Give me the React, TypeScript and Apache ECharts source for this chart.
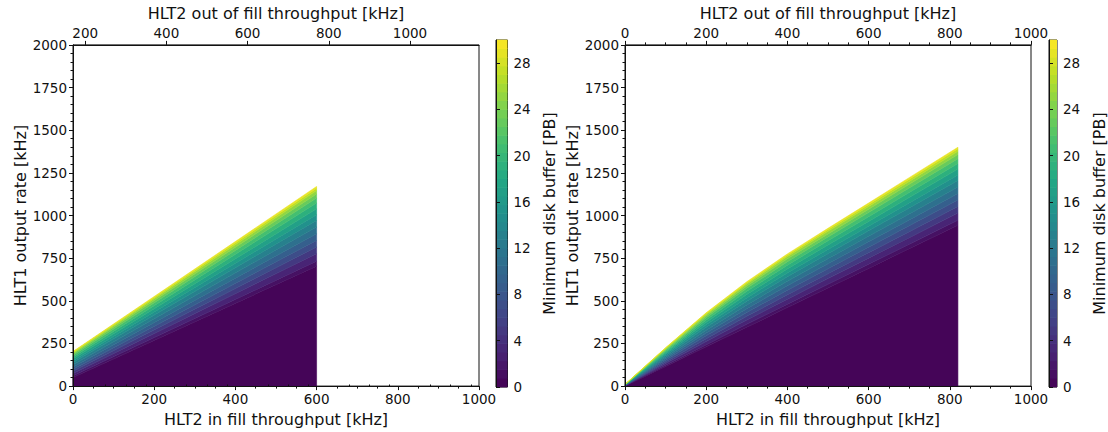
import React, { useEffect, useRef } from 'react';
import * as echarts from 'echarts';

// ---- data ----
// contour levels (PB) bounding the filled bands
const LEVELS = [0.75, 2, 4, 6, 8, 10, 12, 14, 16, 18, 20, 22, 24, 26, 28, 30];

// left panel: x columns (HLT2 in fill throughput, kHz) and the HLT1 rate of each contour level
const LEFT_X = [0, 600];
const LEFT_CONTOURS = [
  [50, 703], [60, 732], [74, 776], [87, 815], [99, 854], [112, 893], [125, 932], [138, 971],
  [149, 1005], [160, 1039], [171, 1073], [181, 1102], [189, 1126], [195, 1146], [200, 1160], [203, 1170],
];

// right panel
const RIGHT_X = [0, 100, 200, 300, 400, 500, 600, 700, 820];
const RIGHT_CONTOURS = [
  [0.4, 115, 230, 345, 460, 575, 690, 805, 943],
  [1, 122, 243, 362, 480, 597, 714, 831, 972],
  [1.9, 132, 261, 387, 509, 630, 750, 870, 1014],
  [2.7, 141, 278, 409, 536, 659, 782, 905, 1053],
  [3.5, 151, 295, 431, 562, 688, 814, 940, 1091],
  [4.3, 160, 311, 454, 588, 717, 846, 974, 1129],
  [5.1, 169, 328, 476, 614, 746, 878, 1009, 1167],
  [5.9, 178, 345, 498, 641, 776, 910, 1044, 1205],
  [6.6, 186, 359, 517, 663, 801, 937, 1074, 1238],
  [7.3, 194, 374, 537, 686, 827, 965, 1105, 1272],
  [8, 202, 388, 556, 709, 852, 993, 1135, 1305],
  [8.6, 209, 401, 573, 729, 874, 1017, 1161, 1333],
  [9.1, 215, 411, 587, 746, 892, 1037, 1183, 1357],
  [9.5, 219, 420, 598, 759, 907, 1053, 1200, 1376],
  [9.8, 223, 426, 606, 768, 918, 1065, 1213, 1391],
  [10, 225, 430, 612, 775, 925, 1073, 1222, 1400],
];

// colorbar band edges
const CBAR_LEVELS = [
  0, 0.75, 1.5, 2.25, 3, 3.75, 4.5, 5.25, 6, 6.75, 7.5, 8.25, 9, 9.75, 10.5, 11.25, 12, 12.75, 13.5, 14.25,
  15, 15.75, 16.5, 17.25, 18, 18.75, 19.5, 20.25, 21, 21.75, 22.5, 23.25, 24, 24.75, 25.5, 26.25, 27, 27.75,
  28.5, 29.25, 30,
];

const TOP_LEFT_TICKS = [200, 400, 600, 800, 1000];
const TOP_LEFT_MINOR = [250, 300, 350, 450, 500, 550, 650, 700, 750, 850, 900, 950, 1050, 1100, 1150];
const CBAR_TICKS = [0, 4, 8, 12, 16, 20, 24, 28];

const VIRIDIS = ['#440154', '#482475', '#414487', '#355f8d', '#2a788e', '#21918c', '#22a884', '#44bf70', '#7ad151', '#bddf26', '#fde725'];

const FONT = 'DejaVu Sans';
const INK = '#111';

function bandData() {
  return LEVELS.map((v, k) => [k, k === 0 ? v / 2 : (LEVELS[k - 1] + v) / 2]);
}

function bandRenderer(xs: number[], contours: number[][]) {
  return (params: any, api: any) => {
    const k = api.value(0);
    const upper = contours[k];
    const lower = k === 0 ? null : contours[k - 1];
    const pts: number[][] = [];
    for (let i = 0; i < xs.length; i++) pts.push(api.coord([xs[i], lower ? Math.min(lower[i], upper[i]) : 0]));
    for (let i = xs.length - 1; i >= 0; i--) pts.push(api.coord([xs[i], upper[i]]));
    const c = api.visual('color');
    return {
      type: 'polygon',
      shape: { points: pts },
      style: { fill: c, stroke: c, lineWidth: 0.6 },
    };
  };
}

function cbarRenderer(params: any, api: any) {
  const k = api.value(0);
  const p0 = api.coord([0, CBAR_LEVELS[k]]);
  const p1 = api.coord([1, CBAR_LEVELS[k + 1]]);
  return {
    type: 'rect',
    shape: { x: p0[0], y: p1[1] - 0.3, width: p1[0] - p0[0], height: p0[1] - p1[1] + 0.6 },
    style: { fill: api.visual('color') },
  };
}

const cbarData = CBAR_LEVELS.slice(0, -1).map((v, k) => [k, (v + CBAR_LEVELS[k + 1]) / 2]);

const plain = (v: number) => String(v);
const label = { fontSize: 13.5, color: INK, fontFamily: FONT, formatter: plain };
const nameStyle = { fontSize: 16, color: INK, fontFamily: FONT };
const line = { show: true, lineStyle: { color: INK, width: 1 } };
const tick = { show: true, length: 4, lineStyle: { color: INK, width: 1 } };
const minor = (n: number) => ({ show: true, splitNumber: n, length: 2.5, lineStyle: { color: INK, width: 1 } });

function mainAxes(gridIndex: number, topMin: number, topMax: number, leftStyle: boolean) {
  const bottom = {
    type: 'value', gridIndex, position: 'bottom', min: 0, max: 1000, interval: 200, z: 10,
    axisLine: line, axisTick: tick, minorTick: minor(4), splitLine: { show: false }, minorSplitLine: { show: false },
    axisLabel: { ...label, margin: 6 },
    name: 'HLT2 in fill throughput [kHz]', nameLocation: 'middle', nameGap: 24, nameTextStyle: nameStyle,
  };
  const top = leftStyle
    ? {
        type: 'value', gridIndex, position: 'top', min: topMin, max: topMax, z: 10,
        axisLine: line,
        axisTick: { ...tick, customValues: TOP_LEFT_TICKS },
        axisLabel: { ...label, margin: 5, customValues: TOP_LEFT_TICKS },
        splitLine: { show: false },
        name: 'HLT2 out of fill throughput [kHz]', nameLocation: 'middle', nameGap: 22, nameTextStyle: nameStyle,
      }
    : {
        type: 'value', gridIndex, position: 'top', min: topMin, max: topMax, interval: 200, z: 10,
        axisLine: line, axisTick: tick, minorTick: minor(4), splitLine: { show: false }, minorSplitLine: { show: false },
        axisLabel: { ...label, margin: 5 },
        name: 'HLT2 out of fill throughput [kHz]', nameLocation: 'middle', nameGap: 22, nameTextStyle: nameStyle,
      };
  return [bottom, top];
}

function yMain(gridIndex: number) {
  return {
    type: 'value', gridIndex, position: 'left', min: 0, max: 2000, interval: 250, z: 10,
    axisLine: line, axisTick: tick, minorTick: minor(5), splitLine: { show: false }, minorSplitLine: { show: false },
    axisLabel: { ...label, margin: 6 },
    name: 'HLT1 output rate [kHz]', nameLocation: 'middle', nameRotate: 90, nameGap: 45, nameTextStyle: nameStyle,
  };
}

function yCbar(gridIndex: number) {
  return {
    type: 'value', gridIndex, position: 'right', min: 0, max: 30, z: 10,
    axisLine: line,
    axisTick: { ...tick, customValues: CBAR_TICKS },
    axisLabel: { ...label, margin: 6, customValues: CBAR_TICKS },
    splitLine: { show: false },
    name: 'Minimum disk buffer [PB]', nameLocation: 'middle', nameRotate: 90, nameGap: 34, nameTextStyle: nameStyle,
  };
}

const hiddenX = (gridIndex: number) => ({ type: 'value', gridIndex, min: 0, max: 1, show: false });

export default function App() {
  const ref = useRef<HTMLDivElement>(null);
  useEffect(() => {
    if (!ref.current) return;
    const chart = echarts.init(ref.current, undefined, { renderer: 'svg' });
    const [lb, lt] = mainAxes(0, 170, 1170, true);
    const [rb, rt] = mainAxes(3, 0, 1000, false);
    const option: any = {
      animation: false,
      textStyle: { fontFamily: FONT },
      grid: [
        { left: 73, top: 40, width: 406, height: 347, show: true, borderColor: INK, borderWidth: 1 },
        { left: 73, top: 40, width: 406, height: 347 },
        { left: 496, top: 40, width: 11.5, height: 347, show: true, borderColor: INK, borderWidth: 1 },
        { left: 625, top: 40, width: 406, height: 347, show: true, borderColor: INK, borderWidth: 1 },
        { left: 1049, top: 40, width: 11.5, height: 347, show: true, borderColor: INK, borderWidth: 1 },
      ],
      xAxis: [
        lb,
        lt,
        {
          type: 'value', gridIndex: 1, position: 'top', min: 170, max: 1170, z: 10,
          axisLine: { show: false },
          axisTick: { show: true, length: 2.5, customValues: TOP_LEFT_MINOR, lineStyle: { color: INK, width: 1 } },
          axisLabel: { show: false }, splitLine: { show: false },
        },
        hiddenX(2),
        rb,
        rt,
        hiddenX(4),
      ],
      yAxis: [
        yMain(0),
        { type: 'value', gridIndex: 1, min: 0, max: 1, show: false },
        yCbar(2),
        yMain(3),
        yCbar(4),
      ],
      visualMap: {
        type: 'continuous', show: false, min: 0, max: 30, dimension: 1,
        seriesIndex: [0, 1, 2, 3], inRange: { color: VIRIDIS },
      },
      series: [
        { type: 'custom', xAxisIndex: 0, yAxisIndex: 0, data: bandData(), renderItem: bandRenderer(LEFT_X, LEFT_CONTOURS), silent: true },
        { type: 'custom', xAxisIndex: 4, yAxisIndex: 3, data: bandData(), renderItem: bandRenderer(RIGHT_X, RIGHT_CONTOURS), silent: true },
        { type: 'custom', xAxisIndex: 3, yAxisIndex: 2, data: cbarData, renderItem: cbarRenderer, silent: true },
        { type: 'custom', xAxisIndex: 6, yAxisIndex: 4, data: cbarData, renderItem: cbarRenderer, silent: true },
      ],
    };
    chart.setOption(option);
    return () => chart.dispose();
  }, []);
  return <div ref={ref} style={{ position: 'fixed', left: 0, top: 0, width: 1108, height: 432, background: '#fff' }} />;
}
